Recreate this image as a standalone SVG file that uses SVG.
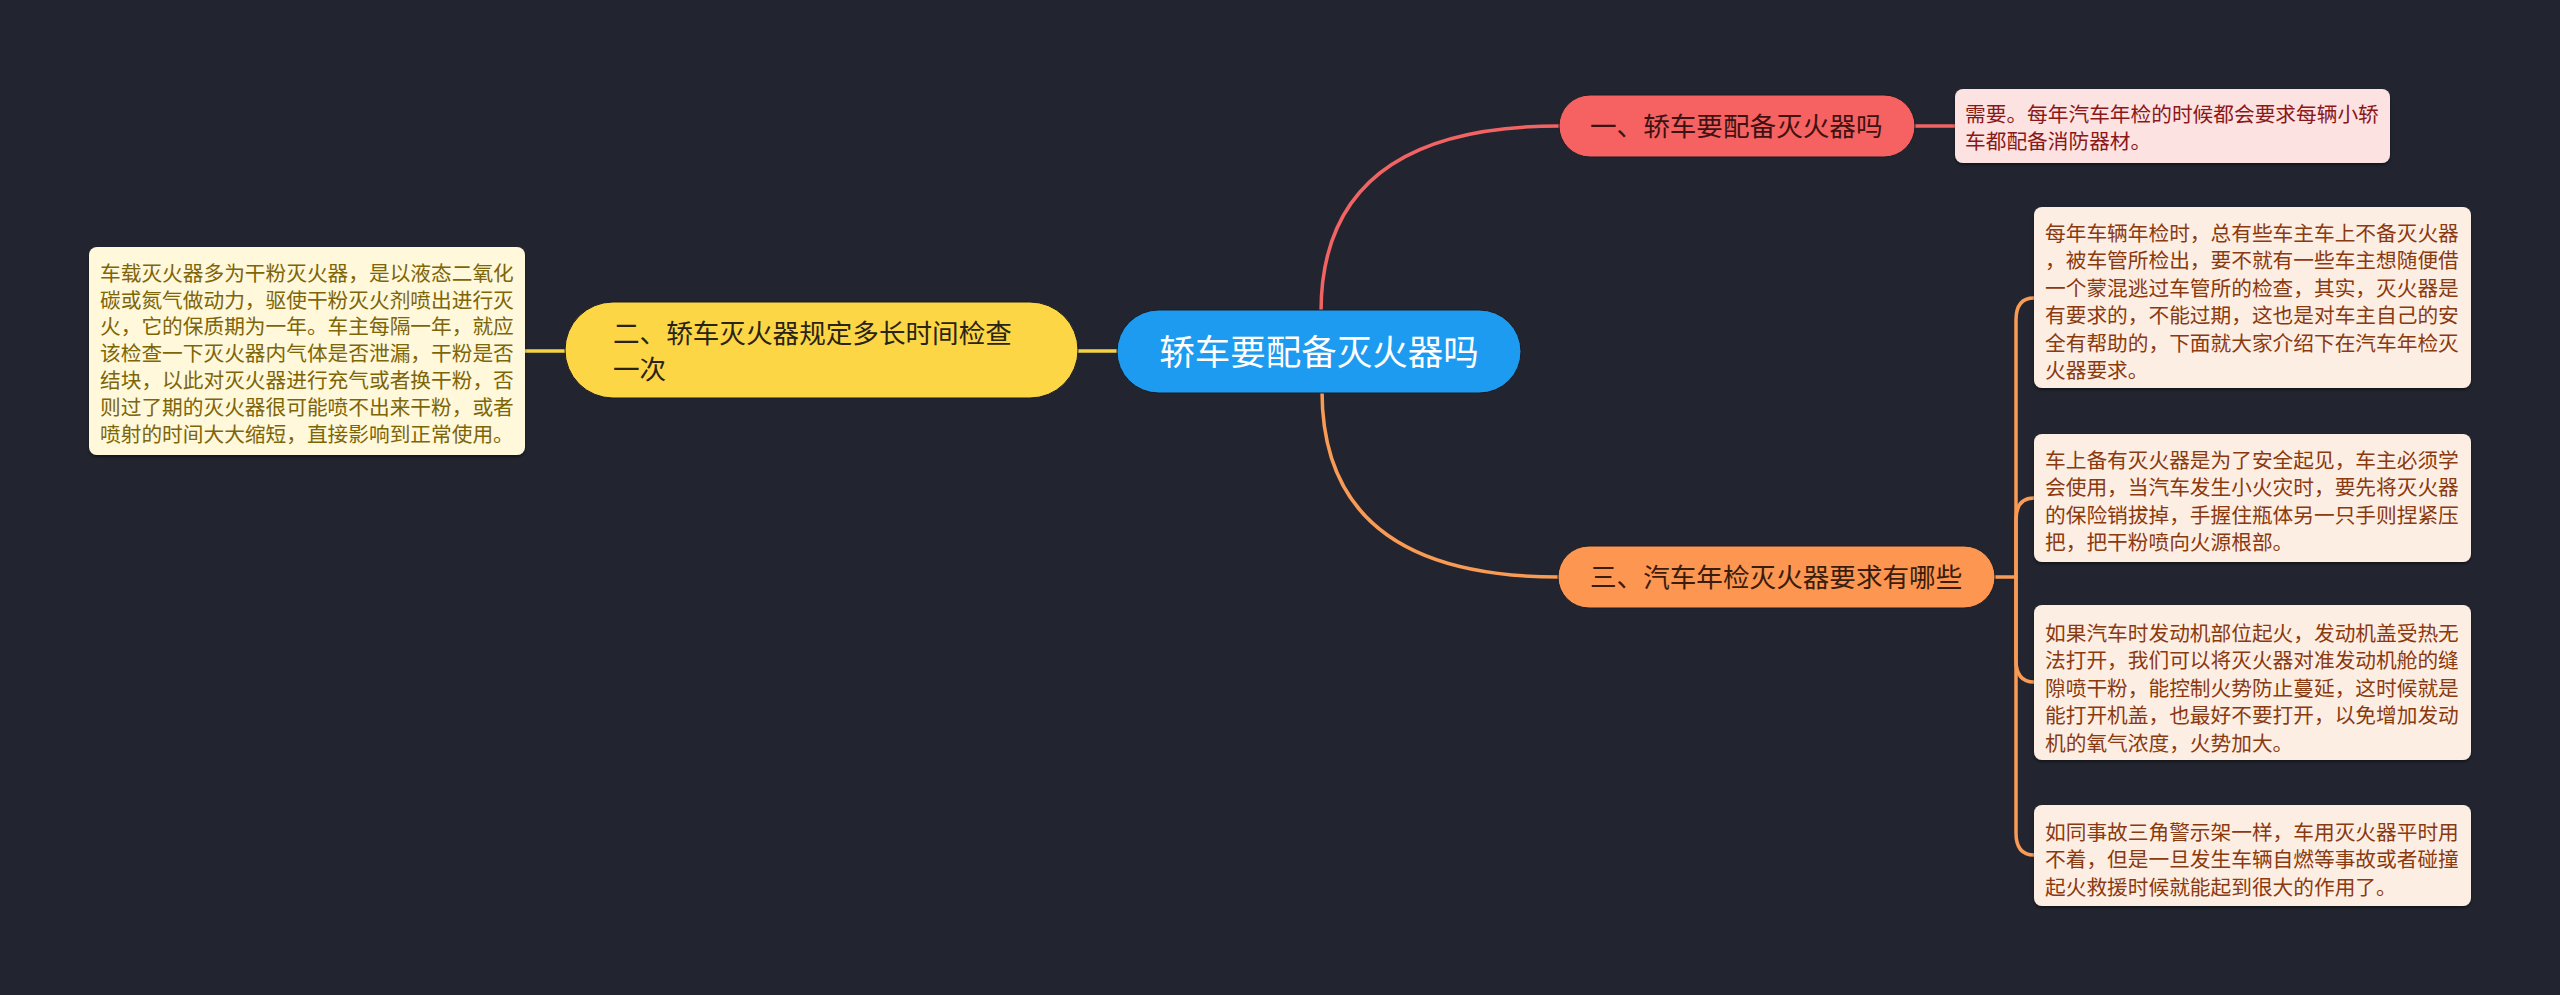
<svg xmlns="http://www.w3.org/2000/svg" width="2560" height="995" viewBox="0 0 2560 995">
<defs>
<style>
.t{font-family:"Noto Sans CJK SC","Noto Sans",sans-serif}
.big{font-size:35.5px;fill:#ffffff}
.mid{font-size:26.6px}
.sm{font-size:20.7px}
.ln{fill:none;stroke-width:3.5;stroke-linecap:round}
.red{stroke:#f26464}
.yel{stroke:#f5d444}
.org{stroke:#f99a55}
.box{stroke:#1a1c24;stroke-width:1}
</style>
<filter id="sh" x="-5%" y="-5%" width="110%" height="115%">
<feDropShadow dx="0" dy="2" stdDeviation="1.5" flood-color="#000" flood-opacity="0.45"/>
</filter>
</defs>
<rect x="0" y="0" width="2560" height="995" fill="#22252f"/>
<g id="connectors">
<path class="ln red" d="M1321 312 Q1321 126 1559 126"/>
<path class="ln red" d="M1915 126 L1955 126"/>
<path class="ln org" d="M1322 391 Q1322 577 1559 577"/>
<path class="ln yel" d="M1078 351 L1118 351"/>
<path class="ln yel" d="M525 351 L565 351"/>
<path class="ln org" d="M1995 577 L2016 577"/>
<path class="ln org" d="M2016 577 L2016 320 Q2016 298 2034 298"/>
<path class="ln org" d="M2016 577 L2016 520 Q2016 498 2034 498"/>
<path class="ln org" d="M2016 577 L2016 660 Q2016 682 2034 682"/>
<path class="ln org" d="M2016 577 L2016 833 Q2016 855 2034 855"/>
</g>
<g id="center">
<rect x="1117" y="310" width="404" height="83" rx="41.5" fill="#1d9bf0" class="box"/>
<text class="t big" x="1319" y="365" text-anchor="middle">轿车要配备灭火器吗</text>
</g>
<g id="n1">
<rect x="1559" y="95" width="356" height="62" rx="31" fill="#f66262" class="box"/>
<text class="t mid" x="1590" y="136" fill="#3d1212">一、轿车要配备灭火器吗</text>
</g>
<g id="n1d">
<rect x="1955" y="89" width="435" height="74" rx="8" fill="#fde2e2" filter="url(#sh)"/>
<text class="t sm" fill="#8a1818"><tspan x="1965" y="122">需要。每年汽车年检的时候都会要求每辆小轿</tspan><tspan x="1965" y="149.4">车都配备消防器材。</tspan></text>
</g>
<g id="n2">
<rect x="565" y="302" width="513" height="96" rx="48" fill="#fdd646" class="box"/>
<text class="t mid" fill="#2a2416"><tspan x="613" y="343">二、轿车灭火器规定多长时间检查</tspan><tspan x="613" y="379">一次</tspan></text>
</g>
<g id="n2d">
<rect x="89" y="247" width="436" height="208" rx="8" fill="#fff8da" filter="url(#sh)"/>
<text class="t sm" fill="#7d6508"><tspan x="100" y="280.7">车载灭火器多为干粉灭火器，是以液态二氧化</tspan><tspan x="100" y="307.5">碳或氮气做动力，驱使干粉灭火剂喷出进行灭</tspan><tspan x="100" y="334.3">火，它的保质期为一年。车主每隔一年，就应</tspan><tspan x="100" y="361.1">该检查一下灭火器内气体是否泄漏，干粉是否</tspan><tspan x="100" y="387.9">结块，以此对灭火器进行充气或者换干粉，否</tspan><tspan x="100" y="414.7">则过了期的灭火器很可能喷不出来干粉，或者</tspan><tspan x="100" y="441.5">喷射的时间大大缩短，直接影响到正常使用。</tspan></text>
</g>
<g id="n3">
<rect x="1558" y="546" width="437" height="62" rx="31" fill="#fd9651" class="box"/>
<text class="t mid" x="1590" y="587" fill="#3a1d0c">三、汽车年检灭火器要求有哪些</text>
</g>
<g id="n3a">
<rect x="2034" y="207" width="437" height="181" rx="8" fill="#fdeee3" filter="url(#sh)"/>
<text class="t sm" fill="#8a3a10"><tspan x="2045" y="241">每年车辆年检时，总有些车主车上不备灭火器</tspan><tspan x="2045" y="268.4">，被车管所检出，要不就有一些车主想随便借</tspan><tspan x="2045" y="295.8">一个蒙混逃过车管所的检查，其实，灭火器是</tspan><tspan x="2045" y="323.2">有要求的，不能过期，这也是对车主自己的安</tspan><tspan x="2045" y="350.6">全有帮助的，下面就大家介绍下在汽车年检灭</tspan><tspan x="2045" y="378">火器要求。</tspan></text>
</g>
<g id="n3b">
<rect x="2034" y="434" width="437" height="128" rx="8" fill="#fdeee3" filter="url(#sh)"/>
<text class="t sm" fill="#8a3a10"><tspan x="2045" y="468">车上备有灭火器是为了安全起见，车主必须学</tspan><tspan x="2045" y="495.4">会使用，当汽车发生小火灾时，要先将灭火器</tspan><tspan x="2045" y="522.8">的保险销拔掉，手握住瓶体另一只手则捏紧压</tspan><tspan x="2045" y="550.2">把，把干粉喷向火源根部。</tspan></text>
</g>
<g id="n3c">
<rect x="2034" y="605" width="437" height="155" rx="8" fill="#fdeee3" filter="url(#sh)"/>
<text class="t sm" fill="#8a3a10"><tspan x="2045" y="641">如果汽车时发动机部位起火，发动机盖受热无</tspan><tspan x="2045" y="668.4">法打开，我们可以将灭火器对准发动机舱的缝</tspan><tspan x="2045" y="695.8">隙喷干粉，能控制火势防止蔓延，这时候就是</tspan><tspan x="2045" y="723.2">能打开机盖，也最好不要打开，以免增加发动</tspan><tspan x="2045" y="750.6">机的氧气浓度，火势加大。</tspan></text>
</g>
<g id="n3d">
<rect x="2034" y="805" width="437" height="101" rx="8" fill="#fdeee3" filter="url(#sh)"/>
<text class="t sm" fill="#8a3a10"><tspan x="2045" y="840">如同事故三角警示架一样，车用灭火器平时用</tspan><tspan x="2045" y="867.4">不着，但是一旦发生车辆自燃等事故或者碰撞</tspan><tspan x="2045" y="894.8">起火救援时候就能起到很大的作用了。</tspan></text>
</g>
</svg>
